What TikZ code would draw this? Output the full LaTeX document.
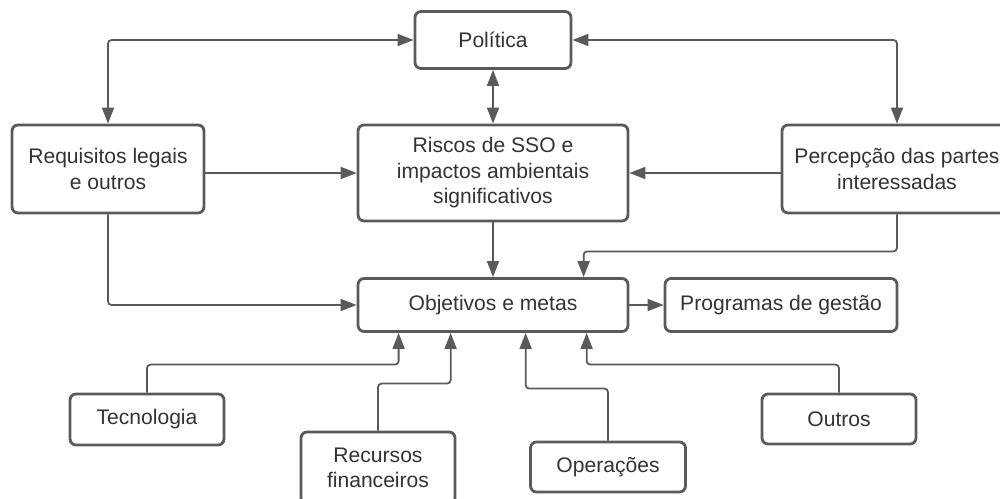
\documentclass[tikz,border=0pt]{standalone}
\usepackage{fontspec}
\setmainfont{Liberation Sans}
\usetikzlibrary{arrows.meta, calc}
\definecolor{linegray}{HTML}{5A5A5A}
\definecolor{textgray}{HTML}{333333}

\begin{document}
\begin{tikzpicture}[x=0.02cm, y=-0.02cm,
    box/.style={draw=linegray, line width=1.6pt, rounded corners=0.12cm, fill=white, text=textgray,
        align=center, inner sep=0pt, font=\fontsize{12pt}{14.5pt}\selectfont},
    conn/.style={draw=linegray, line width=1pt, rounded corners=2pt, -{Triangle[length=3.2mm, width=2.4mm]}},
    dconn/.style={conn, {Triangle[length=3.2mm, width=2.4mm]}-{Triangle[length=3.2mm, width=2.4mm]}}]
    \useasboundingbox (0,0) rectangle (1000,499);
    \clip (0,0) rectangle (1000,499);

    % top row
    \node[box, minimum width=3.12cm, minimum height=1.14cm] (pol) at (493, 40) {Política};
    \node[box, minimum width=3.84cm, minimum height=1.76cm] (req) at (108, 169) {Requisitos legais\\e outros};
    \node[box, minimum width=5.4cm, minimum height=1.92cm] (ris) at (493, 173) {Riscos de SSO e\\impactos ambientais\\significativos};
    \node[box, minimum width=4.6cm, minimum height=1.76cm] (per) at (897, 169) {Percepção das partes\\interessadas};

    % middle row
    \node[box, minimum width=5.4cm, minimum height=1.06cm] (obj) at (493, 305) {Objetivos e metas};
    \node[box, minimum width=4.64cm, minimum height=1.06cm] (prog) at (781, 305) {Programas de gestão};

    % inputs below
    \node[box, minimum width=3.08cm, minimum height=1.02cm] (tec) at (147, 419.5) {Tecnologia};
    \node[box, minimum width=3.08cm, minimum height=1.44cm] (rec) at (378, 468) {Recursos\\financeiros};
    \node[box, minimum width=3.1cm, minimum height=1.0cm] (ope) at (608, 467) {Operações};
    \node[box, minimum width=3.08cm, minimum height=1.0cm] (out) at (839, 419) {Outros};

    \coordinate (ft0) at ($(obj.north west)+(227,0)$);
    \coordinate (ft1) at ($(obj.south west)+(42,0)$);
    \coordinate (ft2) at ($(obj.south west)+(94,0)$);
    \coordinate (ft3) at ($(obj.south west)+(169,0)$);
    \coordinate (ft4) at ($(obj.south west)+(230,0)$);

    % connectors
    \draw[dconn] (req.north) |- (pol.west);
    \draw[dconn] (pol.east) -| (per.north);
    \draw[dconn] (pol.south) -- (ris.north);
    \draw[conn] (ris.west -| req.east) -- (ris.west);
    \draw[conn] (ris.east -| per.west) -- (ris.east);
    \draw[conn] (ris.south) -- (obj.north);
    \draw[conn] (req.south) |- (obj.west);
    \draw[conn] (per.south) -- ++(0,37) -| (ft0);
    \draw[conn] (obj.east) -- (prog.west);
    \draw[conn] (tec.north) -- ++(0,-28) -| (ft1);
    \draw[conn] (rec.north) -- ++(0,-47) -| (ft2);
    \draw[conn] (ope.north) -- ++(0,-52) -| (ft3);
    \draw[conn] (out.north) -- ++(0,-28) -| (ft4);
\end{tikzpicture}
\end{document}
